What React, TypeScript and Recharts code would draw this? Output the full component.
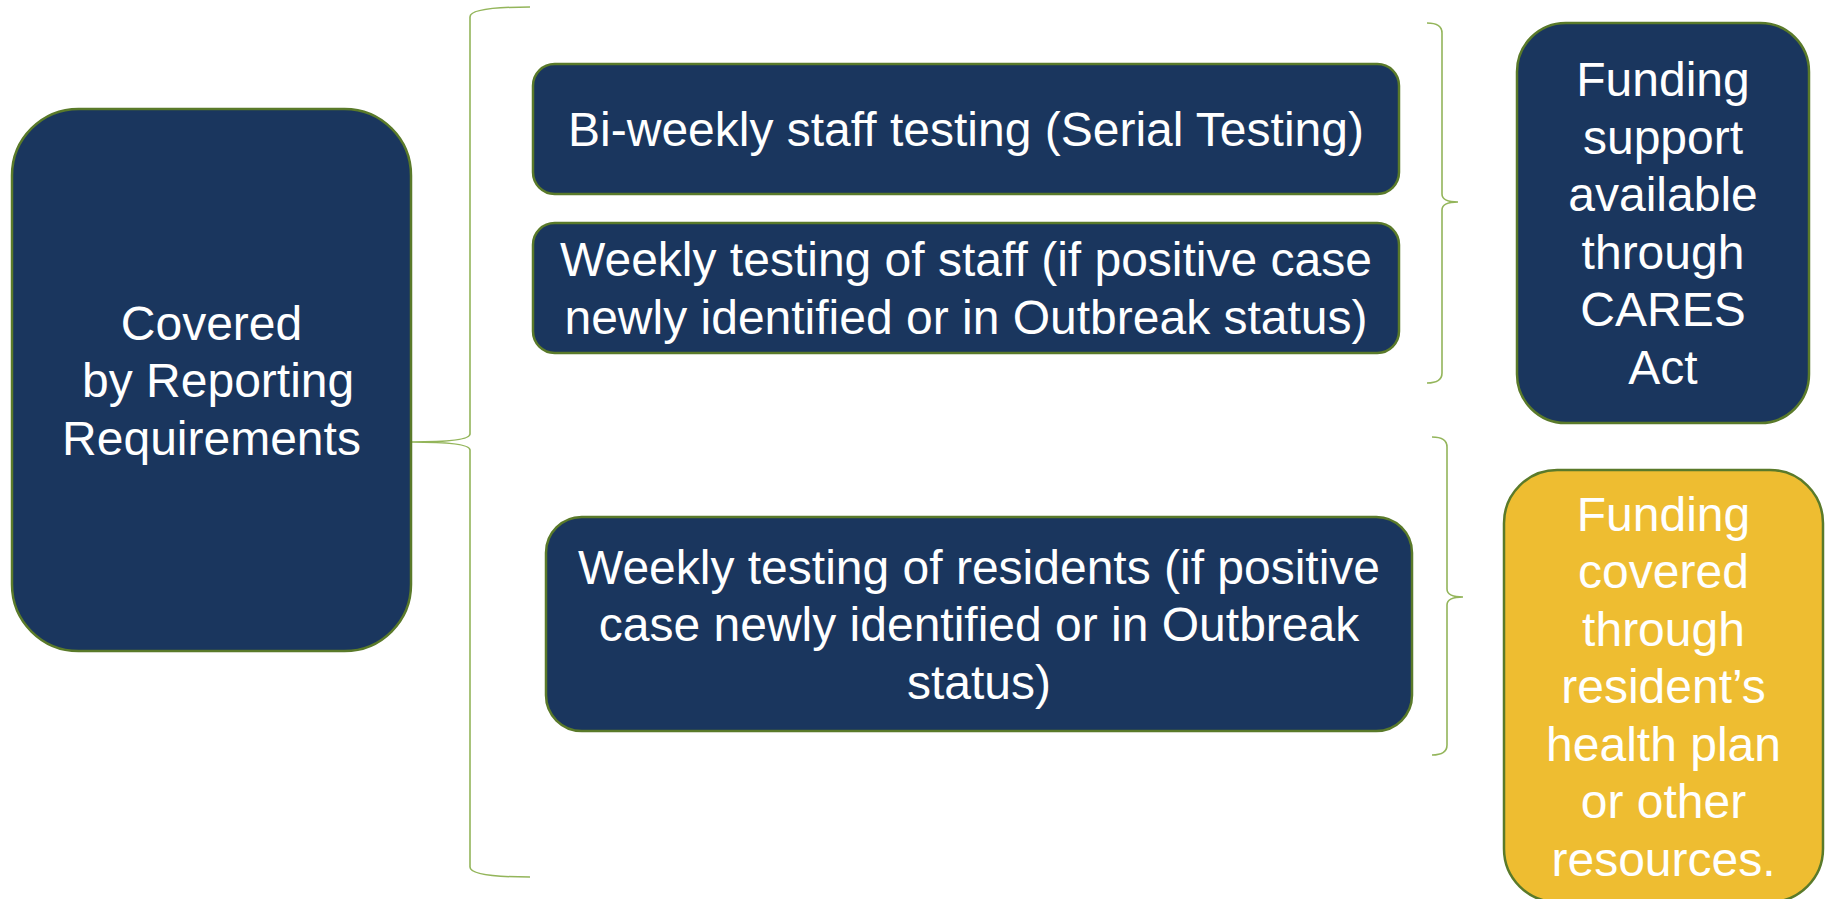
import React from 'react';
import { ComposedChart, XAxis, YAxis, ReferenceArea } from 'recharts';

const W = 1827;
const H = 899;

// Diagram nodes (coordinates in diagram units of the hidden axes)
const nodeLabels: string[][] = [
  ['Covered', ' by Reporting', 'Requirements'],
  ['Bi-weekly staff testing (Serial Testing)'],
  ['Weekly testing of staff (if positive case', 'newly identified or in Outbreak status)'],
  ['Weekly testing of residents (if positive', 'case newly identified or in Outbreak', 'status)'],
  ['Funding', 'support', 'available', 'through', 'CARES', 'Act'],
  ['Funding', 'covered', 'through', 'resident\u2019s', 'health plan', 'or other', 'resources.'],
];
const nodeLeft = [12, 533, 533, 546, 1517, 1504];
const nodeRight = [411, 1399, 1399, 1412, 1809, 1823];
const nodeTop = [109, 64, 223, 517, 23, 470];
const nodeBottom = [651, 194, 353, 731, 423, 902];
const nodeKind = ['navy', 'navy', 'navy', 'navy', 'navy', 'gold'];

// Braces: end (open side), spine, tip (pointing side), top, tip y, bottom
const braceEnd = [530, 1427, 1432];
const braceSpine = [470, 1442, 1447];
const braceTip = [411, 1458, 1463];
const braceTop = [7, 23, 437];
const braceTipY = [442, 202, 597];
const braceBottom = [877, 383, 755];

const COLORS: Record<string, string> = { navy: '#1a365e', gold: '#eebd31' };
const BORDER = '#5a7a2a';
const BRACE = '#93b55a';
const FONT = '"Liberation Sans", Arial, Helvetica, sans-serif';
const FONT_SIZE = 48;
const LINE_H = 57.5;

const nodes = nodeLabels.map((lines, i) => ({
  id: i,
  lines,
  x1: nodeLeft[i],
  x2: nodeRight[i],
  y1: nodeTop[i],
  y2: nodeBottom[i],
  kind: nodeKind[i],
}));

const braces = braceEnd.map((e, i) => ({
  id: i,
  end: e,
  spine: braceSpine[i],
  tip: braceTip[i],
  top: braceTop[i],
  tipY: braceTipY[i],
  bottom: braceBottom[i],
}));

function BoxShape(props: any) {
  const { x, y, width, height, lines, kind } = props;
  if (x == null || y == null) return null;
  const r = Math.min(width, height) / 6;
  const cx = x + width / 2;
  const cy = y + height / 2;
  const n = lines.length;
  return (
    <g>
      <rect x={x} y={y} width={width} height={height} rx={r} ry={r}
        fill={COLORS[kind]} stroke={BORDER} strokeWidth={2.5} />
      {lines.map((t: string, i: number) => (
        <text key={i} x={cx} y={cy + (i - (n - 1) / 2) * LINE_H + 17}
          textAnchor="middle" fill="#ffffff" fontFamily={FONT} fontSize={FONT_SIZE}
          style={{ whiteSpace: 'pre' }}>
          {t}
        </text>
      ))}
    </g>
  );
}

function BraceShape(props: any) {
  const { x, y, width, height, b } = props;
  if (x == null || y == null) return null;
  const x0 = Math.min(b.end, b.tip);
  const span = Math.abs(b.end - b.tip);
  const px = (v: number) => x + ((v - x0) / span) * width;
  const py = (v: number) => y + ((v - b.top) / (b.bottom - b.top)) * height;
  const xe = px(b.end);
  const xs = px(b.spine);
  const xt = px(b.tip);
  const yt = py(b.top);
  const ym = py(b.tipY);
  const yb = py(b.bottom);
  const r = 10;
  const r2 = 8;
  const d = `M ${xe} ${yt} Q ${xs} ${yt} ${xs} ${yt + r} L ${xs} ${ym - r2} Q ${xs} ${ym} ${xt} ${ym} ` +
    `Q ${xs} ${ym} ${xs} ${ym + r2} L ${xs} ${yb - r} Q ${xs} ${yb} ${xe} ${yb}`;
  return <path d={d} fill="none" stroke={BRACE} strokeWidth={1.6} />;
}

export default function App() {
  return (
    <div style={{ position: 'absolute', left: 0, top: 0, width: W, height: H, background: '#ffffff' }}>
      <ComposedChart width={W} height={H} data={nodes} margin={{ top: 0, right: 0, bottom: 0, left: 0 }}>
        <XAxis type="number" dataKey="x1" domain={[0, W]} hide allowDataOverflow />
        <YAxis type="number" domain={[0, H]} reversed hide allowDataOverflow />
        {braces.map((b) => (
          <ReferenceArea key={`b${b.id}`} x1={Math.min(b.end, b.tip)} x2={Math.max(b.end, b.tip)}
            y1={b.top} y2={b.bottom} ifOverflow="visible"
            shape={(p: any) => <BraceShape {...p} b={b} />} />
        ))}
        {nodes.map((nd) => (
          <ReferenceArea key={`n${nd.id}`} x1={nd.x1} x2={nd.x2} y1={nd.y1} y2={nd.y2}
            ifOverflow="visible"
            shape={(p: any) => <BoxShape {...p} lines={nd.lines} kind={nd.kind} />} />
        ))}
      </ComposedChart>
    </div>
  );
}
